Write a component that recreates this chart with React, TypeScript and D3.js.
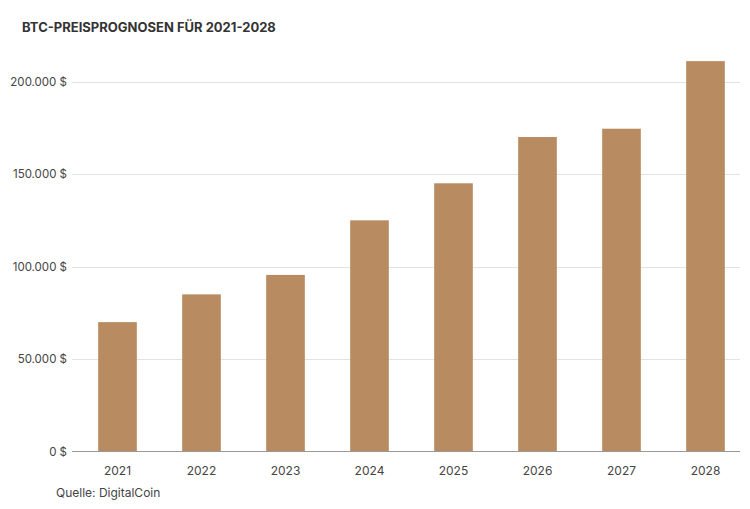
import React, { useEffect, useRef } from "react";
import * as d3 from "d3";

const years = ["2021", "2022", "2023", "2024", "2025", "2026", "2027", "2028"];
const prices = [70000, 85000, 95500, 125000, 145000, 170000, 174500, 211000];
const yTicks = [0, 50000, 100000, 150000, 200000];

const title = "BTC-PREISPROGNOSEN FÜR 2021-2028";
const source = "Quelle: DigitalCoin";

const width = 750;
const height = 509;
const font = "Inter, 'Noto Sans', sans-serif";

const fmt = (v: number) => d3.format(",")(v).replace(/,/g, ".") + " $";

const App: React.FC = () => {
  const svgRef = useRef<SVGSVGElement>(null);

  useEffect(() => {
    if (!svgRef.current) return;
    const svg = d3.select(svgRef.current);
    svg.selectAll("*").remove();

    const x = d3
      .scaleBand()
      .domain(years)
      .range([75.5, 747.5])
      .paddingInner(0.54)
      .paddingOuter(0.27);

    const y = d3.scaleLinear().domain([0, 200000]).range([451.7, 81.5]);

    // gridlines
    svg
      .append("g")
      .selectAll("line")
      .data(yTicks.filter((d) => d > 0))
      .enter()
      .append("line")
      .attr("x1", 72)
      .attr("x2", 740)
      .attr("y1", (d) => Math.round(y(d)) + 0.5)
      .attr("y2", (d) => Math.round(y(d)) + 0.5)
      .attr("stroke", "#e3e3e3")
      .attr("stroke-width", 1);

    // y tick labels
    svg
      .append("g")
      .selectAll("text")
      .data(yTicks)
      .enter()
      .append("text")
      .attr("x", 67)
      .attr("y", (d) => y(d))
      .attr("dy", "0.35em")
      .attr("text-anchor", "end")
      .style("font-family", font)
      .style("font-size", "11.5px")
      .attr("fill", "#444")
      .text((d) => fmt(d));

    // bars
    svg
      .append("g")
      .selectAll("rect")
      .data(prices)
      .enter()
      .append("rect")
      .attr("x", (_, i) => x(years[i]) || 0)
      .attr("y", (d) => y(d))
      .attr("width", x.bandwidth())
      .attr("height", (d) => y(0) - y(d))
      .attr("fill", "#b98b61");

    // baseline
    svg
      .append("line")
      .attr("x1", 72)
      .attr("x2", 740)
      .attr("y1", 451.5)
      .attr("y2", 451.5)
      .attr("stroke", "#999")
      .attr("stroke-width", 1);

    // x tick labels
    svg
      .append("g")
      .selectAll("text")
      .data(years)
      .enter()
      .append("text")
      .attr("x", (d) => (x(d) || 0) + x.bandwidth() / 2)
      .attr("y", 475)
      .attr("text-anchor", "middle")
      .style("font-family", font)
      .style("font-size", "12px")
      .attr("fill", "#444")
      .text((d) => d);

    // title
    svg
      .append("text")
      .attr("x", 22)
      .attr("y", 32)
      .style("font-family", font)
      .style("font-size", "13px")
      .style("font-weight", "bold")
      .attr("fill", "#333")
      .text(title);

    // source
    svg
      .append("text")
      .attr("x", 56)
      .attr("y", 497)
      .style("font-family", font)
      .style("font-size", "12px")
      .attr("fill", "#444")
      .text(source);
  }, []);

  return (
    <div style={{ position: "absolute", left: 0, top: 0 }}>
      <svg ref={svgRef} width={width} height={height} style={{ display: "block", background: "#fff" }} />
    </div>
  );
};

export default App;
